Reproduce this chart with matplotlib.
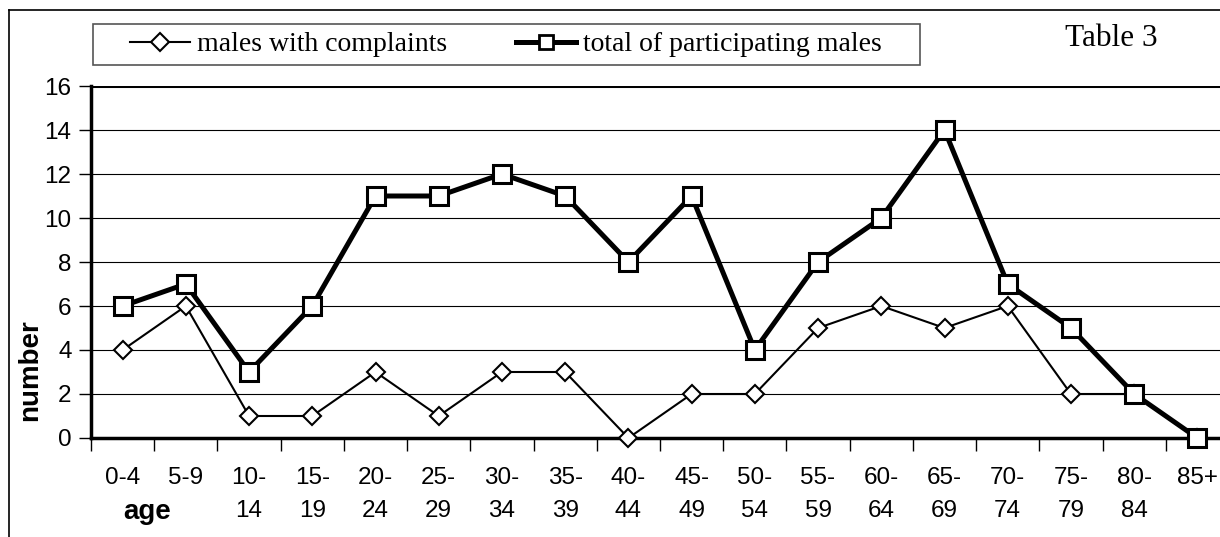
import numpy as np
import matplotlib
matplotlib.use('Agg')
from matplotlib import pyplot as plt
from matplotlib.lines import Line2D
from matplotlib.patches import Rectangle

ages = ['0-4', '5-9', '10-\n14', '15-\n19', '20-\n24', '25-\n29', '30-\n34', '35-\n39', '40-\n44',
        '45-\n49', '50-\n54', '55-\n59', '60-\n64', '65-\n69', '70-\n74', '75-\n79', '80-\n84', '85+']
complaints = [4, 6, 1, 1, 3, 1, 3, 3, 0, 2, 2, 5, 6, 5, 6, 2, 2, 0]
total = [6, 7, 3, 6, 11, 11, 12, 11, 8, 11, 4, 8, 10, 14, 7, 5, 2, 0]

plt.rcParams['font.family'] = ['Liberation Sans', 'DejaVu Sans']
serif = ['Liberation Serif', 'DejaVu Serif']

W, H = 1220, 537
fig = plt.figure(figsize=(W / 100, H / 100), dpi=100)
ax = fig.add_axes([91 / W, 1 - 438 / H, 1138 / W, 352 / H])

x = np.arange(len(ages))
ax.plot(x, complaints, color='black', lw=1.5, marker='D', ms=9, mfc='white', mec='black', mew=1.5,
        clip_on=False, zorder=3)
ax.plot(x, total, color='black', lw=3.6, marker='s', ms=13, mfc='white', mec='black', mew=2.2,
        clip_on=False, zorder=4)

ax.set_xlim(-0.5, len(ages) - 0.5)
ax.set_ylim(0, 16)
ax.set_yticks(np.arange(0, 17, 2))
ax.tick_params(axis='y', labelsize=17.5, length=9, width=1, direction='out', pad=5)
ax.set_xticks(x)
ax.set_xticklabels(ages, fontsize=17.5, linespacing=1.62, va='top')
ax.tick_params(axis='x', which='major', length=0, pad=21)
ax.set_xticks(np.arange(-0.5, len(ages), 1), minor=True)
ax.tick_params(axis='x', which='minor', length=9, width=1, direction='out')
for y in range(2, 16, 2):
    ax.axhline(y, color='black', lw=0.8, zorder=1)
ax.axhline(16, color='black', lw=2.2, zorder=1)
for s in ['right', 'top']:
    ax.spines[s].set_visible(False)
ax.spines['left'].set_linewidth(2.5)
ax.spines['bottom'].set_linewidth(2.5)

fig.text(30 / W, 1 - 370 / H, 'number', rotation=90, fontsize=20, fontweight='bold',
         ha='center', va='center')
fig.text(147 / W, 1 - 512 / H, 'age', fontsize=20, fontweight='bold', ha='center', va='center')
fig.text(1111 / W, 1 - 38 / H, 'Table 3', fontsize=22.5, family=serif, ha='center', va='center')

# outer frame
fig.add_artist(Line2D([9 / W, 9 / W], [0, 1 - 10 / H], transform=fig.transFigure,
                      color='black', lw=1.2))
fig.add_artist(Line2D([9 / W, 1], [1 - 10 / H, 1 - 10 / H], transform=fig.transFigure,
                      color='black', lw=1.2))

# legend box
fig.add_artist(Rectangle((93 / W, 1 - 65 / H), 827 / W, 41 / H, transform=fig.transFigure,
                         facecolor='white', edgecolor='#555555', lw=1.2))
h1 = Line2D([], [], color='black', lw=1.5, marker='D', ms=9, mfc='white', mec='black', mew=1.5)
h2 = Line2D([], [], color='black', lw=3.6, marker='s', ms=10, mfc='white', mec='black', mew=2)
leg = fig.legend([h1, h2], ['males with complaints', 'total of participating males'], ncol=2,
                 loc='center left', bbox_to_anchor=(130 / W, 1 - 44.5 / H),
                 prop={'family': serif, 'size': 20}, frameon=False,
                 handlelength=2.15, handletextpad=0.25, columnspacing=2.5,
                 borderpad=0, borderaxespad=0)

plt.savefig('out.png', dpi=100)
